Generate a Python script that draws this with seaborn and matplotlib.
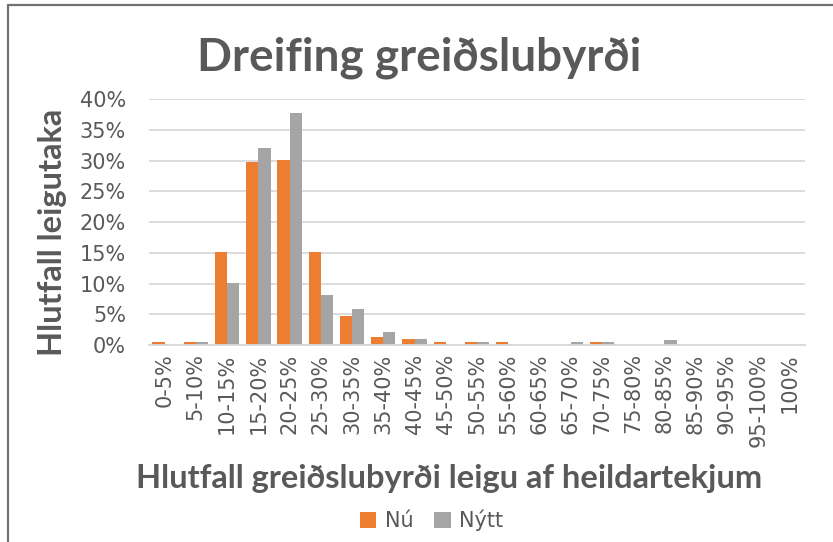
import matplotlib
matplotlib.use("Agg")
import matplotlib.pyplot as plt
from matplotlib.lines import Line2D
from matplotlib.patches import Patch
from matplotlib.ticker import FuncFormatter
import seaborn as sns
import pandas as pd

categories = ["0-5%", "5-10%", "10-15%", "15-20%", "20-25%", "25-30%", "30-35%",
              "35-40%", "40-45%", "45-50%", "50-55%", "55-60%", "60-65%", "65-70%",
              "70-75%", "75-80%", "80-85%", "85-90%", "90-95%", "95-100%", "100%"]
nu = [0.45, 0.45, 15.1, 29.7, 30.1, 15.1, 4.7, 1.3, 0.9, 0.45, 0.45, 0.45,
      0, 0, 0.45, 0, 0, 0, 0, 0, 0]
nytt = [0, 0.45, 10.1, 32.0, 37.8, 8.2, 5.9, 2.1, 0.9, 0, 0.45, 0,
        0, 0.45, 0.45, 0, 0.8, 0, 0, 0, 0]
series_names = ["Nú", "Nýtt"]
yticks = [0, 5, 10, 15, 20, 25, 30, 35, 40]

df = pd.DataFrame({
    "cat": categories * 2,
    "val": nu + nytt,
    "series": [series_names[0]] * len(categories) + [series_names[1]] * len(categories),
})

sns.set_theme(style="white")
plt.rcParams["font.family"] = ["DejaVu Sans"]

txt = "#595959"
colors = {"Nú": "#ED7D31", "Nýtt": "#A5A5A5"}
bold_font = ["Lato", "DejaVu Sans"]

fig = plt.figure(figsize=(8.33, 5.42), dpi=100)
ax = fig.add_axes([149 / 833, 1 - 345 / 542, 656 / 833, 246 / 542])

sns.barplot(data=df, x="cat", y="val", hue="series", order=categories,
            hue_order=series_names, palette=colors, width=0.78, ax=ax,
            legend=False, saturation=1, edgecolor="none")

ax.set_ylim(0, 40)
ax.set_xlim(-0.5, len(categories) - 0.5)
ax.set_yticks(yticks)
ax.yaxis.set_major_formatter(FuncFormatter(lambda v, p: f"{int(v)}%"))
ax.yaxis.grid(True, color="#d9d9d9", linewidth=1.3)
ax.set_axisbelow(True)
for s in ["top", "right", "left"]:
    ax.spines[s].set_visible(False)
ax.spines["bottom"].set_color("#d9d9d9")
ax.spines["bottom"].set_linewidth(1.3)
ax.tick_params(axis="y", length=0, labelsize=15, colors=txt, pad=16.5)
ax.tick_params(axis="x", length=0, labelsize=15, colors=txt, pad=6)
plt.setp(ax.get_xticklabels(), rotation=90)
ax.set_xlabel("")
ax.set_ylabel("")

fig.text(0.503, 0.893, "Dreifing greiðslubyrði", ha="center", va="center",
         fontsize=33, fontweight="bold", color=txt, family=bold_font)
fig.text(0.063, 0.572, "Hlutfall leigutaka", ha="center", va="center",
         rotation=90, fontsize=23.5, fontweight="bold", color=txt, family=bold_font)
fig.text(0.539, 0.118, "Hlutfall greiðslubyrði leigu af heildartekjum",
         ha="center", va="center", fontsize=23.5, fontweight="bold", color=txt,
         family=bold_font)

handles = [Patch(facecolor=colors[n], edgecolor="none", label=n) for n in series_names]
leg = fig.legend(handles=handles, loc="center", bbox_to_anchor=(0.518, 0.04),
                 ncol=2, frameon=False, fontsize=15, handlelength=0.8,
                 handleheight=0.8, handletextpad=0.4, columnspacing=1.0)
for t in leg.get_texts():
    t.set_color(txt)

fig.add_artist(Line2D([7.5 / 833, 7.5 / 833], [0, 1 - 4.5 / 542],
                      color="#767171", linewidth=1.6, transform=fig.transFigure))
fig.add_artist(Line2D([7.5 / 833, 1], [1 - 4.5 / 542, 1 - 4.5 / 542],
                      color="#767171", linewidth=1.6, transform=fig.transFigure))

fig.savefig("out.png", dpi=100, facecolor="white")
